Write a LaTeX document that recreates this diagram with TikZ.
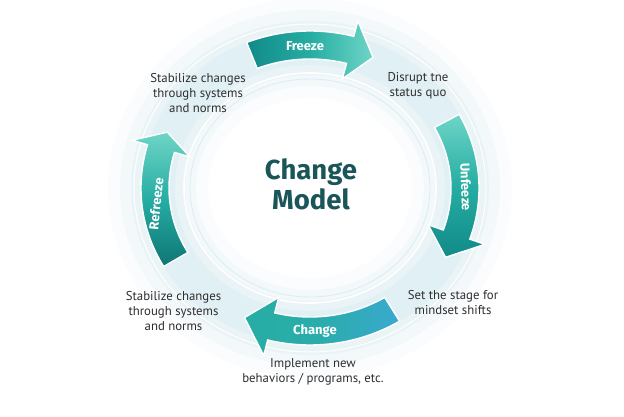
\documentclass[tikz,border=0pt]{standalone}
\usepackage{fontspec}
\setmainfont{PT Sans}
\newfontfamily\boldfam{Fira Sans}
\definecolor{glow}{HTML}{CFE9F0}
\definecolor{tealA}{HTML}{118A88}
\definecolor{tealB}{HTML}{26ADA3}
\definecolor{tealC}{HTML}{6ED5C7}
\definecolor{blueT}{HTML}{3AA9CF}
\definecolor{titlecol}{HTML}{1A5659}
\definecolor{txt}{HTML}{2E2E2E}
\newcommand{\ringarrow}[4]{%
  \path[draw=white, line width=1.4, #4]
    (#1:169 and 157) arc[start angle=#1, end angle=#2, x radius=169, y radius=157]
    -- (#2:185 and 173) -- (#3:155 and 143) -- (#2:125 and 113)
    -- (#2:141 and 129) arc[start angle=#2, end angle=#1, x radius=141, y radius=129]
    -- cycle;}
\tikzset{
  body/.style={font=\fontsize{12.8}{15}\selectfont, text=txt, align=center},
  arrowlabel/.style={font=\boldfam\bfseries\fontsize{13}{15}\selectfont, text=white},
}
\begin{document}
\begin{tikzpicture}[x=1pt,y=1pt]
\useasboundingbox (0,0) rectangle (624,416);
\fill[white] (0,0) rectangle (624,416);
\begin{scope}[shift={(310,228)}]
  \foreach \lw/\op in {100/0.10, 76/0.16, 54/0.24, 34/0.32}
    \draw[glow, line width=\lw, opacity=\op] (0,0) ellipse[x radius=152, y radius=140];
  \draw[white, line width=1.6] (0,0) ellipse[x radius=126, y radius=115];
  \draw[white, line width=1] (0,0) ellipse[x radius=176, y radius=164];
  \draw[glow, line width=0.8, opacity=0.7] (0,0) ellipse[x radius=120, y radius=109];
  % arrows
  \ringarrow{112}{75}{66}{left color=tealA, right color=tealC, middle color=tealB}
  \ringarrow{28}{-19}{-29}{top color=tealC, bottom color=tealA, middle color=tealB}
  \ringarrow{-58}{-104.5}{-115}{left color=tealB, right color=blueT, middle color=tealB!80!blueT}
  \ringarrow{210}{164}{157}{top color=tealC, bottom color=tealA!85!black, middle color=tealB}
\end{scope}
% arrow labels
\node[arrowlabel] (lfreeze) at (305,370) {Freeze};
\node[arrowlabel, rotate=-88] (lunfreeze) at (466,229) {Unfeeze};
\node[arrowlabel] (lchange) at (315,85) {Change};
\node[arrowlabel, rotate=84] (lrefreeze) at (156,212) {Refreeze};
% title
\node[font=\boldfam\bfseries\fontsize{27.5}{30}\selectfont, text=titlecol, align=center] (title) at (311,232) {Change\\Model};
% descriptions
\node[body] (tl) at (198,323) {Stabilize changes\\through systems\\and norms};
\node[body] (tr) at (418,330) {Disrupt tne\\status quo};
\node[body] (br) at (453,113.5) {Set the stage for\\mindset shifts};
\node[body] (bl) at (173.5,105) {Stabilize changes\\through systems\\and norms};
\node[body] (bot) at (313,44) {Implement new\\behaviors / programs, etc.};
\end{tikzpicture}
\end{document}
